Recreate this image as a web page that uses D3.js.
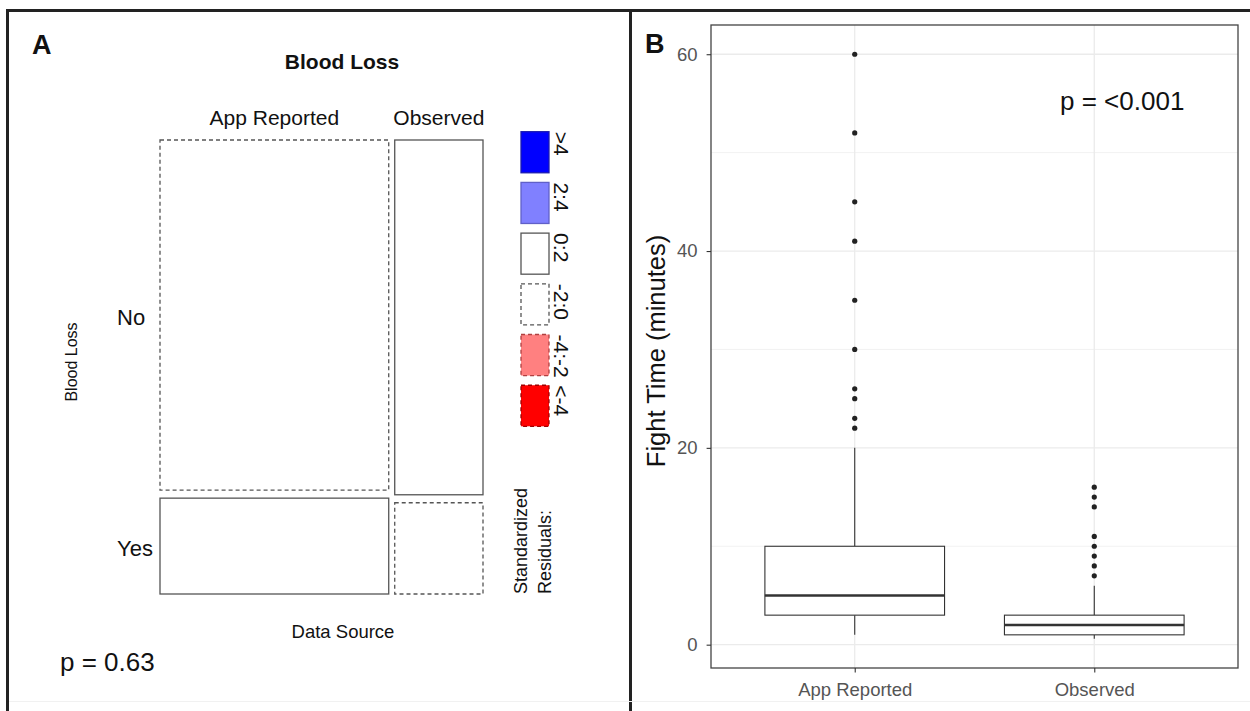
<!DOCTYPE html>
<html>
<head>
<meta charset="utf-8">
<script src="https://cdn.jsdelivr.net/npm/d3@7"></script>
<style>
  body { margin: 0; background: #fff; }
  svg { display: block; font-family: "Liberation Sans", Arial, sans-serif; }
</style>
</head>
<body>
<svg id="fig" width="1250" height="711"></svg>
<script>
// ---- Panel A: blood loss by data source (counts) ----
const sources = ["App Reported", "Observed"];
const bloodLoss = ["No", "Yes"];
const countsApp = [179, 49];
const countsObserved = [70, 18];
const residualBins = [">4", "2:4", "0:2", "-2:0", "-4:-2", "<-4"];
const pMosaic = "p = 0.63";

// ---- Panel B: fight time box plots (minutes) ----
const groups = ["App Reported", "Observed"];
const whiskerLow = [1, 0.6];
const q1 = [3, 1];
const medians = [5, 2];
const q3 = [10, 3];
const whiskerHigh = [20, 6];
const outliersApp = [22, 23, 25, 26, 30, 35, 41, 45, 52, 60];
const outliersObserved = [7, 8, 9, 10, 11, 14, 15, 16];
const yTicks = [0, 20, 40, 60];
const yMinorTicks = [10, 30, 50];
const pBox = "p = <0.001";

const svg = d3.select("#fig");

// ---------- frame lines ----------
svg.append("line").attr("x1", 6).attr("x2", 1250).attr("y1", 10.5).attr("y2", 10.5)
  .attr("stroke", "#222").attr("stroke-width", 3);
svg.append("line").attr("x1", 7.5).attr("x2", 7.5).attr("y1", 9).attr("y2", 711)
  .attr("stroke", "#222").attr("stroke-width", 3);
svg.append("line").attr("x1", 630.5).attr("x2", 630.5).attr("y1", 9).attr("y2", 711)
  .attr("stroke", "#222").attr("stroke-width", 3);
svg.append("line").attr("x1", 9).attr("x2", 1250).attr("y1", 701.5).attr("y2", 701.5)
  .attr("stroke", "#f1f1f1").attr("stroke-width", 1);

// ================= Panel A: mosaic =================
const A = svg.append("g");
A.append("text").attr("x", 32).attr("y", 54).attr("font-size", 27).attr("font-weight", "bold")
  .attr("fill", "#111").text("A");
A.append("text").attr("x", 342).attr("y", 69).attr("text-anchor", "middle")
  .attr("font-size", 21).attr("font-weight", "bold").attr("fill", "#111").text("Blood Loss");

const counts = [countsApp, countsObserved];
const colTotals = counts.map(d => d3.sum(d));
const grand = d3.sum(colTotals);
const rowTotals = bloodLoss.map((_, j) => d3.sum(counts, c => c[j]));

const gapX = 6, gapY = 8;
const mLeft = 160, mRight = 483, mTop = 140, mBottom = 594;
const mx = d3.scaleLinear().domain([0, grand]).range([mLeft, mRight - gapX]);

const cells = [];
const cols = [];
let cum = 0;
sources.forEach((s, i) => {
  const x0 = mx(cum) + i * gapX, x1 = mx(cum + colTotals[i]) + i * gapX;
  cols.push({ name: s, x0, x1 });
  const my = d3.scaleLinear().domain([0, colTotals[i]]).range([mTop, mBottom - gapY]);
  let rc = 0;
  bloodLoss.forEach((b, j) => {
    const o = counts[i][j];
    const e = colTotals[i] * rowTotals[j] / grand;
    cells.push({ col: i, row: j, x0, x1,
      y0: my(rc) + j * gapY, y1: my(rc + o) + j * gapY,
      res: (o - e) / Math.sqrt(e) });
    rc += o;
  });
  cum += colTotals[i];
});

// shading by standardized residual
const shade = [
  { fill: "#0000ff", stroke: "#1a1ab0", dash: null },
  { fill: "#8080ff", stroke: "#6060c8", dash: null },
  { fill: "#ffffff", stroke: "#555",    dash: null },
  { fill: "#ffffff", stroke: "#555",    dash: "4,3" },
  { fill: "#ff8080", stroke: "#b04040", dash: "4,3" },
  { fill: "#ff0000", stroke: "#a00000", dash: "4,3" }
];
function shadeFor(r) {
  if (r > 4) return shade[0];
  if (r > 2) return shade[1];
  if (r >= 0) return shade[2];
  if (r >= -2) return shade[3];
  if (r >= -4) return shade[4];
  return shade[5];
}

A.selectAll("rect.cell").data(cells).join("rect").attr("class", "cell")
  .attr("x", d => d.x0).attr("y", d => d.y0)
  .attr("width", d => d.x1 - d.x0).attr("height", d => d.y1 - d.y0)
  .attr("fill", d => shadeFor(d.res).fill)
  .attr("stroke", d => shadeFor(d.res).stroke)
  .attr("stroke-width", 1.3)
  .attr("stroke-dasharray", d => shadeFor(d.res).dash);

// column labels
A.selectAll("text.col").data(cols).join("text").attr("class", "col")
  .attr("x", d => (d.x0 + d.x1) / 2).attr("y", 125).attr("text-anchor", "middle")
  .attr("font-size", 21).attr("fill", "#111").text(d => d.name);

// row labels (aligned to first column)
A.selectAll("text.row").data(cells.filter(c => c.col === 0)).join("text").attr("class", "row")
  .attr("x", 117).attr("y", d => (d.y0 + d.y1) / 2 + 2).attr("dy", "0.35em")
  .attr("font-size", 22).attr("fill", "#111").text(d => bloodLoss[d.row]);

// variable names
A.append("text").attr("transform", "translate(77,362) rotate(-90)").attr("text-anchor", "middle")
  .attr("font-size", 16).attr("fill", "#111").text("Blood Loss");
A.append("text").attr("x", 343).attr("y", 638).attr("text-anchor", "middle")
  .attr("font-size", 18.5).attr("fill", "#111").text("Data Source");

// residual legend
const legY = d3.scaleBand().domain(residualBins).range([131.7, 131.7 + 49.1 * 6]).paddingInner(0.19).paddingOuter(0);
const leg = A.append("g");
leg.selectAll("rect").data(residualBins).join("rect")
  .attr("x", 521).attr("y", d => legY(d)).attr("width", 28).attr("height", legY.bandwidth())
  .attr("fill", (d, i) => shade[i].fill).attr("stroke", (d, i) => shade[i].stroke)
  .attr("stroke-width", 1.3).attr("stroke-dasharray", (d, i) => shade[i].dash);
leg.selectAll("text").data(residualBins).join("text")
  .attr("transform", d => `translate(554,${legY(d)}) rotate(90)`)
  .attr("font-size", 21).attr("fill", "#111").text(d => d);

A.append("text").attr("transform", "translate(527,594) rotate(-90)")
  .attr("font-size", 18).attr("fill", "#111").text("Standardized");
A.append("text").attr("transform", "translate(551,594) rotate(-90)")
  .attr("font-size", 18).attr("fill", "#111").text("Residuals:");

A.append("text").attr("x", 60).attr("y", 671).attr("font-size", 26).attr("fill", "#111").text(pMosaic);

// ================= Panel B: box plots =================
const B = svg.append("g");
const pL = 711, pR = 1238, pT = 25, pB = 668;

const allVals = whiskerLow.concat(whiskerHigh, outliersApp, outliersObserved);
const [vMin, vMax] = d3.extent(allVals);
const pad = 0.05 * (vMax - vMin);
const y = d3.scaleLinear().domain([vMin - pad, vMax + pad]).range([pB, pT]);
const x = d3.scaleLinear().domain([0.4, 2.6]).range([pL, pR]);
const boxW = 0.75;

// gridlines
B.append("g").selectAll("line").data(yMinorTicks).join("line")
  .attr("x1", pL).attr("x2", pR).attr("y1", d => y(d)).attr("y2", d => y(d))
  .attr("stroke", "#ebebeb").attr("stroke-width", 0.7);
B.append("g").selectAll("line").data(yTicks).join("line")
  .attr("x1", pL).attr("x2", pR).attr("y1", d => y(d)).attr("y2", d => y(d))
  .attr("stroke", "#ebebeb").attr("stroke-width", 1.3);
B.append("g").selectAll("line").data(groups).join("line")
  .attr("x1", (d, i) => x(i + 1)).attr("x2", (d, i) => x(i + 1)).attr("y1", pT).attr("y2", pB)
  .attr("stroke", "#ebebeb").attr("stroke-width", 1.3);

// boxes
const stats = groups.map((g, i) => ({
  g, i, lo: whiskerLow[i], q1: q1[i], med: medians[i], q3: q3[i], hi: whiskerHigh[i],
  out: i === 0 ? outliersApp : outliersObserved
}));
const bx = B.selectAll("g.box").data(stats).join("g").attr("class", "box");
bx.append("line").attr("x1", d => x(d.i + 1)).attr("x2", d => x(d.i + 1))
  .attr("y1", d => y(d.q3)).attr("y2", d => y(d.hi)).attr("stroke", "#333").attr("stroke-width", 1.1);
bx.append("line").attr("x1", d => x(d.i + 1)).attr("x2", d => x(d.i + 1))
  .attr("y1", d => y(d.lo)).attr("y2", d => y(d.q1)).attr("stroke", "#333").attr("stroke-width", 1.1);
bx.append("rect")
  .attr("x", d => x(d.i + 1 - boxW / 2)).attr("width", d => x(d.i + 1 + boxW / 2) - x(d.i + 1 - boxW / 2))
  .attr("y", d => y(d.q3)).attr("height", d => y(d.q1) - y(d.q3))
  .attr("fill", "#fff").attr("stroke", "#333").attr("stroke-width", 1.1);
bx.append("line").attr("x1", d => x(d.i + 1 - boxW / 2)).attr("x2", d => x(d.i + 1 + boxW / 2))
  .attr("y1", d => y(d.med)).attr("y2", d => y(d.med)).attr("stroke", "#333").attr("stroke-width", 2.6);
bx.selectAll("circle").data(d => d.out.map(v => ({ v, i: d.i }))).join("circle")
  .attr("cx", d => x(d.i + 1)).attr("cy", d => y(d.v)).attr("r", 2.6).attr("fill", "#222");

// panel border
B.append("rect").attr("x", pL).attr("y", pT).attr("width", pR - pL).attr("height", pB - pT)
  .attr("fill", "none").attr("stroke", "#444").attr("stroke-width", 1.3);

// axes
const yAxis = B.append("g").attr("transform", `translate(${pL},0)`)
  .call(d3.axisLeft(y).tickValues(yTicks).tickSize(4.4).tickPadding(9));
const xAxis = B.append("g").attr("transform", `translate(0,${pB})`)
  .call(d3.axisBottom(x).tickValues([1, 2]).tickFormat(v => groups[v - 1]).tickSize(4.4).tickPadding(10));
[yAxis, xAxis].forEach(ax => {
  ax.select(".domain").remove();
  ax.selectAll(".tick line").attr("stroke", "#333").attr("stroke-width", 1.1);
  ax.selectAll(".tick text").attr("fill", "#555").attr("font-size", 18.5)
    .attr("font-family", '"Liberation Sans", Arial, sans-serif');
});

B.append("text").attr("transform", "translate(665,351) rotate(-90)")
  .attr("text-anchor", "middle").attr("font-size", 25.5).attr("fill", "#111").text("Fight Time (minutes)");
B.append("text").attr("x", 645).attr("y", 53).attr("font-size", 27).attr("font-weight", "bold")
  .attr("fill", "#111").text("B");
B.append("text").attr("x", 1060).attr("y", 110).attr("font-size", 26).attr("fill", "#111").text(pBox);
</script>
</body>
</html>
